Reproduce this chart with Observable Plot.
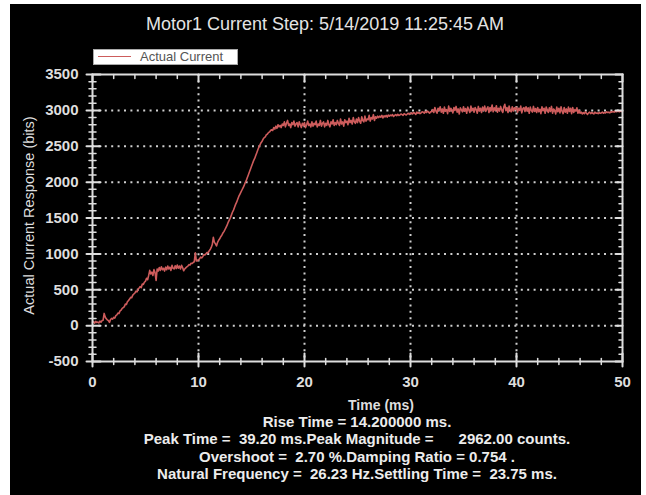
<!DOCTYPE html>
<html><head><meta charset="utf-8">
<script src="https://cdn.jsdelivr.net/npm/d3@7"></script>
<script src="https://cdn.jsdelivr.net/npm/@observablehq/plot@0.6"></script>
<style>
body{margin:0;background:#fff;width:646px;height:495px;overflow:hidden;position:relative;font-family:"Liberation Sans",Arial,sans-serif}
#bg{position:absolute;left:10px;top:4px;width:631px;height:491px;background:#000}
#title{position:absolute;left:0;width:650px;top:14px;text-align:center;color:#e4e4e4;font-size:18px;line-height:20px}
#legend{position:absolute;left:93px;top:49px;width:145px;height:16px;background:#fff;border:1px solid #aaa;box-sizing:border-box}
#legend .sw{position:absolute;left:4px;top:6px;width:33px;border-top:1.5px solid #cd5c5c}
#legend .lb{position:absolute;left:46px;top:0px;font-size:13px;line-height:14px;color:#555}
#chart{position:absolute;left:0;top:0}
#stats{position:absolute;left:0;width:714px;top:413px;text-align:center;color:#ececec;font-size:15px;font-weight:bold;white-space:pre;line-height:17.3px}
</style></head>
<body>
<div id="bg"></div>
<div id="title"></div>
<div id="chart"></div>
<div id="legend"><div class="sw"></div><div class="lb"></div></div>
<div id="stats"></div>
<script>
const titleText = "Motor1 Current Step: 5/14/2019 11:25:45 AM";
const seriesName = "Actual Current";
const xLabel = "Time (ms)";
const yLabel = "Actual Current Response (bits)";
const statLines = [
  "Rise Time = 14.200000 ms.",
  "Peak Time =  39.20 ms.Peak Magnitude =      2962.00 counts.",
  "Overshoot =  2.70 %.Damping Ratio = 0.754 .",
  "Natural Frequency =  26.23 Hz.Settling Time =  23.75 ms."
];
const xTicks = [0, 10, 20, 30, 40, 50];
const yTicks = [-500, 0, 500, 1000, 1500, 2000, 2500, 3000, 3500];
const xGridTicks = [10, 20, 30, 40];
const yGridTicks = [0, 500, 1000, 1500, 2000, 2500, 3000];
const xMinor = d3.range(0, 51, 2).filter(v => v % 10 !== 0);
const yMinor = d3.range(-500, 3501, 100).filter(v => v % 500 !== 0);

// sample time step 0.1 ms, start 0 ms
const t0 = 0, dt = 0.1;
const current = [
  40, 55, 35, 60, 45, 50, 38, 62, 48, 70,
  75, 170, 120, 95, 80, 70, 45, 85, 100, 90,
  115, 105, 140, 150, 175, 170, 205, 215, 240, 250,
  265, 300, 295, 335, 350, 370, 395, 390, 425, 440,
  455, 480, 470, 510, 525, 545, 530, 580, 575, 605,
  620, 660, 640, 700, 770, 720, 745, 700, 780, 740,
  630, 790, 760, 810, 770, 820, 780, 800, 760, 815,
  780, 830, 790, 815, 770, 840, 800, 790, 835, 795,
  845, 800, 830, 790, 840, 810, 765, 790, 805, 820,
  830, 850, 845, 870, 865, 880, 890, 1015, 900, 905,
  920, 930, 955, 945, 960, 990, 985, 1000, 1020, 1015,
  1040, 1060, 1090, 1130, 1230, 1160, 1140, 1110, 1160, 1190,
  1210, 1240, 1260, 1290, 1310, 1340, 1370, 1400, 1440, 1470,
  1500, 1540, 1580, 1610, 1650, 1690, 1720, 1760, 1800, 1830,
  1860, 1890, 1920, 1950, 1990, 2020, 2060, 2100, 2140, 2180,
  2220, 2260, 2300, 2330, 2370, 2410, 2450, 2490, 2520, 2550,
  2570, 2600, 2620, 2630, 2660, 2670, 2690, 2700, 2720, 2730,
  2720, 2760, 2740, 2780, 2750, 2800, 2770, 2790, 2760, 2810,
  2790, 2840, 2770, 2820, 2860, 2790, 2810, 2760, 2830, 2800,
  2850, 2780, 2810, 2830, 2770, 2840, 2800, 2760, 2820, 2790,
  2830, 2760, 2800, 2850, 2790, 2810, 2770, 2840, 2780, 2820,
  2800, 2850, 2770, 2810, 2790, 2860, 2780, 2820, 2840, 2770,
  2820, 2790, 2860, 2800, 2770, 2840, 2810, 2870, 2790, 2830,
  2800, 2860, 2820, 2790, 2880, 2810, 2840, 2780, 2870, 2830,
  2850, 2800, 2890, 2830, 2860, 2810, 2900, 2840, 2820, 2880,
  2830, 2900, 2850, 2820, 2910, 2860, 2840, 2920, 2850, 2880,
  2870, 2930, 2850, 2900, 2880, 2940, 2860, 2910, 2890, 2920,
  2900, 2920, 2905, 2930, 2895, 2925, 2910, 2930, 2905, 2935,
  2920, 2935, 2925, 2940, 2915, 2930, 2940, 2925, 2945, 2930,
  2935, 2950, 2940, 2930, 2955, 2945, 2935, 2950, 2960, 2945,
  2955, 2965, 2950, 2970, 2960, 2945, 2975, 2960, 2970, 2955,
  2965, 2980, 2975, 2960, 2985, 2970, 2990, 2975, 2960, 2980,
  2980, 3010, 2970, 3040, 2990, 2960, 3030, 3000, 3050, 2975,
  3020, 2960, 3045, 2990, 3010, 2955, 3060, 2985, 3030, 3005,
  2965, 3040, 3000, 3055, 2975, 3020, 2950, 3035, 3010, 2980,
  3050, 2990, 3025, 2960, 3045, 3005, 2970, 3060, 2995, 3030,
  2975, 3040, 3010, 2960, 3055, 2990, 3030, 2970, 3045, 3000,
  3060, 2985, 3020, 3050, 2970, 3040, 2995, 3075, 2980, 3035,
  3000, 3065, 2975, 3030, 2990, 3055, 3010, 2970, 3045, 3085,
  2995, 3040, 2970, 3060, 3005, 2980, 3050, 2990, 3035, 3010,
  3045, 2975, 3030, 3000, 3060, 2965, 3025, 3040, 2985, 3050,
  2990, 3035, 2960, 3045, 3000, 2975, 3055, 2985, 3025, 2970,
  3040, 2980, 3015, 2955, 3050, 2995, 3030, 2960, 3045, 3005,
  2970, 3035, 2985, 3055, 2960, 3020, 3000, 2950, 3045, 2980,
  3030, 2965, 3050, 2990, 2955, 3040, 2975, 3020, 2960, 3045,
  2985, 3030, 2955, 3040, 2970, 3010, 2990, 3035, 2960, 3000,
  2960, 2975, 2950, 2970, 2955, 2980, 2960, 2945, 2965, 2975,
  2955, 2970, 2960, 2950, 2975, 2960, 2965, 2955, 2970, 2960,
  2965, 2975, 2960, 2970, 2965, 2980, 2970, 2975, 2965, 2980,
  2975, 2985, 2975, 2990, 2980, 2985, 2990, 2980, 2990, 2985,
  2990
];
const data = current.map((v, i) => ({t: +(t0 + i * dt).toFixed(2), v}));

document.getElementById("title").textContent = titleText;
document.querySelector("#legend .lb").textContent = seriesName;
document.getElementById("stats").textContent = statLines.join("\n");

const axisColor = "#dedede";
const lineTick = {draw(ctx, l) { ctx.moveTo(0, 0); ctx.lineTo(0, -l); }};
const font = "'Liberation Sans', Arial, sans-serif";

const chart = Plot.plot({
  width: 646,
  height: 415,
  marginTop: 74,
  marginLeft: 92,
  marginRight: 24,
  marginBottom: 54,
  style: {background: "transparent", color: axisColor, fontFamily: font, fontSize: "14px", overflow: "visible"},
  x: {domain: [0, 50], axis: null},
  y: {domain: [-500, 3500], axis: null},
  marks: [
    Plot.gridX(xGridTicks, {stroke: "#cfcfcf", strokeOpacity: 1, strokeWidth: 2, strokeDasharray: "2,4.4"}),
    Plot.gridY(yGridTicks, {stroke: "#cfcfcf", strokeOpacity: 1, strokeWidth: 2, strokeDasharray: "2,4.4"}),
    Plot.line(data, {x: "t", y: "v", stroke: "#cd5c5c", strokeWidth: 1.6}),
    Plot.frame({stroke: axisColor, strokeWidth: 2}),
    // bottom ticks
    Plot.vector(xTicks, {x: d => d, frameAnchor: "bottom", length: 13, dy: 5, anchor: "start", shape: lineTick, stroke: axisColor, strokeWidth: 2}),
    Plot.vector(xMinor, {x: d => d, frameAnchor: "bottom", length: 6, dy: 3, anchor: "start", shape: lineTick, stroke: axisColor, strokeWidth: 1.5}),
    // top ticks (inward)
    Plot.vector(xTicks, {x: d => d, frameAnchor: "top", length: 7, rotate: 180, anchor: "start", shape: lineTick, stroke: axisColor, strokeWidth: 2}),
    Plot.vector(xMinor, {x: d => d, frameAnchor: "top", length: 4, rotate: 180, anchor: "start", shape: lineTick, stroke: axisColor, strokeWidth: 1.5}),
    // left ticks
    Plot.vector(yTicks, {y: d => d, frameAnchor: "left", length: 14, dx: -6, rotate: 90, anchor: "start", shape: lineTick, stroke: axisColor, strokeWidth: 2}),
    Plot.vector(yMinor, {y: d => d, frameAnchor: "left", length: 7, dx: -3.5, rotate: 90, anchor: "start", shape: lineTick, stroke: axisColor, strokeWidth: 1.5}),
    // right ticks (inward)
    Plot.vector(yTicks, {y: d => d, frameAnchor: "right", length: 7, rotate: -90, anchor: "start", shape: lineTick, stroke: axisColor, strokeWidth: 2}),
    Plot.vector(yMinor, {y: d => d, frameAnchor: "right", length: 3.5, rotate: -90, anchor: "start", shape: lineTick, stroke: axisColor, strokeWidth: 1.5}),
    // tick labels
    Plot.text(xTicks, {x: d => d, frameAnchor: "bottom", dy: 21, text: d => String(d), fill: axisColor, fontWeight: "bold", fontSize: 15, lineAnchor: "middle"}),
    Plot.text(yTicks, {y: d => d, frameAnchor: "left", dx: -14, text: d => String(d), textAnchor: "end", fill: axisColor, fontWeight: "bold", fontSize: 15, lineAnchor: "middle"}),
    // axis titles
    Plot.text([xLabel], {frameAnchor: "bottom", dx: 23.5, dy: 44, fill: axisColor, fontWeight: "bold", fontSize: 14, lineAnchor: "middle"}),
    Plot.text([yLabel], {frameAnchor: "left", dx: -63, dy: -2.5, rotate: -90, textAnchor: "middle", fill: axisColor, fontSize: 14.5, lineAnchor: "middle"})
  ]
});
document.getElementById("chart").appendChild(chart);
</script>
</body></html>
